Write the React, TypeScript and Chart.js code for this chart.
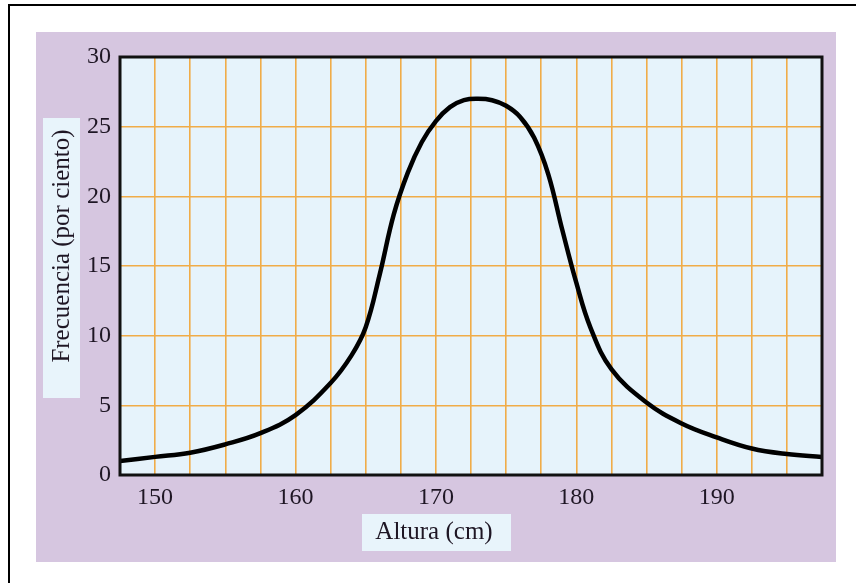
import React, { useEffect, useRef } from 'react';
import { Chart, registerables } from 'chart.js';

Chart.register(...registerables);

// Data
const heights = [147.5, 150, 152.5, 155, 157.5, 160, 162.5, 164, 165, 166, 167, 168, 169, 170, 171, 172, 173, 174, 175, 176, 177, 178, 179, 180, 181, 182.5, 185, 187.5, 190, 192.5, 195, 197.5];
const frequencies = [1.0, 1.3, 1.6, 2.2, 3.0, 4.3, 6.6, 8.6, 10.6, 14.4, 18.7, 21.7, 23.9, 25.4, 26.4, 26.9, 27.0, 26.9, 26.5, 25.7, 24.2, 21.6, 17.6, 13.8, 10.6, 7.6, 5.2, 3.7, 2.7, 1.9, 1.5, 1.3];
const xLabelValues = [150, 160, 170, 180, 190];
const xMin = 147.5;
const xMax = 197.5;
const xStep = 2.5;
const yMin = 0;
const yMax = 30;
const yStep = 5;
const xTitle = 'Altura (cm)';
const yTitle = 'Frecuencia (por ciento)';

const FONT = '"Liberation Serif", "Times New Roman", serif';
const TEXT = '#1e1624';
const PURPLE = '#d6c6e0';
const PLOT_BG = '#e6f3fb';
const GRID = '#f0ac48';

const decorPlugin = {
  id: 'decor',
  beforeDraw(chart: any) {
    const { ctx, chartArea } = chart;
    const W = chart.width;
    const H = chart.height;
    ctx.save();
    ctx.fillStyle = '#ffffff';
    ctx.fillRect(0, 0, W, H);
    // outer frame (top and left visible)
    ctx.strokeStyle = '#000';
    ctx.lineWidth = 2;
    ctx.beginPath();
    ctx.moveTo(9, H);
    ctx.lineTo(9, 5);
    ctx.lineTo(W, 5);
    ctx.stroke();
    // purple panel
    ctx.fillStyle = PURPLE;
    ctx.fillRect(36, 32, 800, 530);
    // label boxes
    ctx.fillStyle = '#e8f4fb';
    ctx.fillRect(43, 118, 37, 280);
    ctx.fillRect(362, 514, 149, 37);
    // plot background
    ctx.fillStyle = PLOT_BG;
    ctx.fillRect(chartArea.left, chartArea.top, chartArea.right - chartArea.left, chartArea.bottom - chartArea.top);
    ctx.restore();
  },
  afterDraw(chart: any) {
    const { ctx, chartArea } = chart;
    ctx.save();
    ctx.strokeStyle = '#111';
    ctx.lineWidth = 3;
    ctx.strokeRect(chartArea.left, chartArea.top, chartArea.right - chartArea.left, chartArea.bottom - chartArea.top);
    ctx.fillStyle = TEXT;
    ctx.font = `25px ${FONT}`;
    ctx.textAlign = 'center';
    ctx.textBaseline = 'middle';
    ctx.fillText(xTitle, 434, 532);
    ctx.translate(62, 246);
    ctx.rotate(-Math.PI / 2);
    ctx.fillText(yTitle, 0, 0);
    ctx.restore();
  },
};

export default function App() {
  const ref = useRef<HTMLCanvasElement | null>(null);
  useEffect(() => {
    if (!ref.current) return;
    const chart = new Chart(ref.current, {
      type: 'line',
      data: {
        datasets: [
          {
            data: heights.map((h, i) => ({ x: h, y: frequencies[i] })),
            borderColor: '#000',
            borderWidth: 4.5,
            pointRadius: 0,
            fill: false,
            tension: 0.4,
          },
        ],
      },
      options: {
        responsive: false,
        animation: false,
        devicePixelRatio: 1,
        layout: { padding: { left: 0, top: 57, right: 34, bottom: 0 } },
        plugins: { legend: { display: false }, tooltip: { enabled: false } },
        scales: {
          x: {
            type: 'linear',
            min: xMin,
            max: xMax,
            afterFit: (s: any) => { s.height = 108; },
            ticks: {
              stepSize: xStep,
              autoSkip: false,
              maxRotation: 0,
              padding: 8,
              color: TEXT,
              font: { family: FONT, size: 24 },
              callback: (v: any) => (xLabelValues.some((t) => Math.abs(t - v) < 1e-6) ? String(v) : ''),
            },
            grid: { color: GRID, lineWidth: 1.6, drawTicks: false },
            border: { display: false },
          },
          y: {
            min: yMin,
            max: yMax,
            afterFit: (s: any) => { s.width = 120; },
            ticks: {
              stepSize: yStep,
              padding: 9,
              color: TEXT,
              font: { family: FONT, size: 24 },
            },
            grid: { color: GRID, lineWidth: 1.6, drawTicks: false },
            border: { display: false },
          },
        },
      },
      plugins: [decorPlugin],
    } as any);
    return () => chart.destroy();
  }, []);
  return (
    <div style={{ position: 'absolute', left: 0, top: 0, width: 856, height: 583 }}>
      <canvas ref={ref} width={856} height={583} />
    </div>
  );
}
